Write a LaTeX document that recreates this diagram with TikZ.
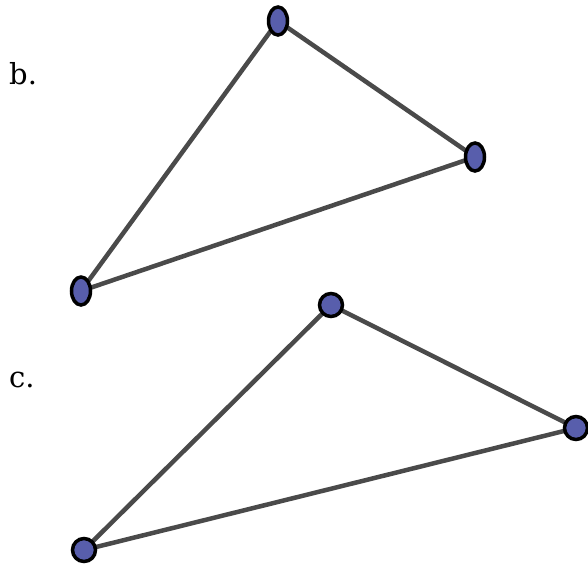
\documentclass[tikz,border=0pt]{standalone}
\usepackage{fontspec}
\setmainfont{DejaVu Serif}
\usepackage{tikz}
\definecolor{knotblue}{RGB}{88, 94, 172}
\definecolor{kantegrau}{RGB}{74, 74, 74}
\usetikzlibrary{shapes.geometric, backgrounds}

\begin{document}
\begin{tikzpicture}[x=1pt, y=-1pt,
			knoten/.style={draw=black, fill=knotblue, line width=3.5pt, ellipse, inner sep=0pt, minimum width=19pt, minimum height=28pt},
			rund/.style={draw=black, fill=knotblue, line width=3.5pt, circle, inner sep=0pt, minimum size=23pt},
			kante/.style={draw=kantegrau, line width=4.5pt},
			font=\fontsize{29}{32}\selectfont]
			%Bildbereich
			\useasboundingbox (0,0) rectangle (588,565);
			% Beschriftung
			\node[anchor=base west, inner sep=0pt] (lb) at (9,84) {b.};
			\node[anchor=base west, inner sep=0pt] (lc) at (9,387) {c.};
			% Dreieck b
			\node[knoten] (b1) at (278,21) {};
			\node[knoten] (b2) at (475,157) {};
			\node[knoten] (b3) at (81,291) {};
			% Dreieck c
			\node[rund] (c1) at (331,305) {};
			\node[rund] (c2) at (576,428) {};
			\node[rund] (c3) at (84,550) {};
			%Kanten zeichnen (hinter den Knoten)
			\begin{pgfonlayer}{background}
				\draw[kante] (b1.center) -- (b2.center) -- (b3.center) -- cycle;
				\draw[kante] (c1.center) -- (c2.center) -- (c3.center) -- cycle;
			\end{pgfonlayer}
\end{tikzpicture}
\end{document}
